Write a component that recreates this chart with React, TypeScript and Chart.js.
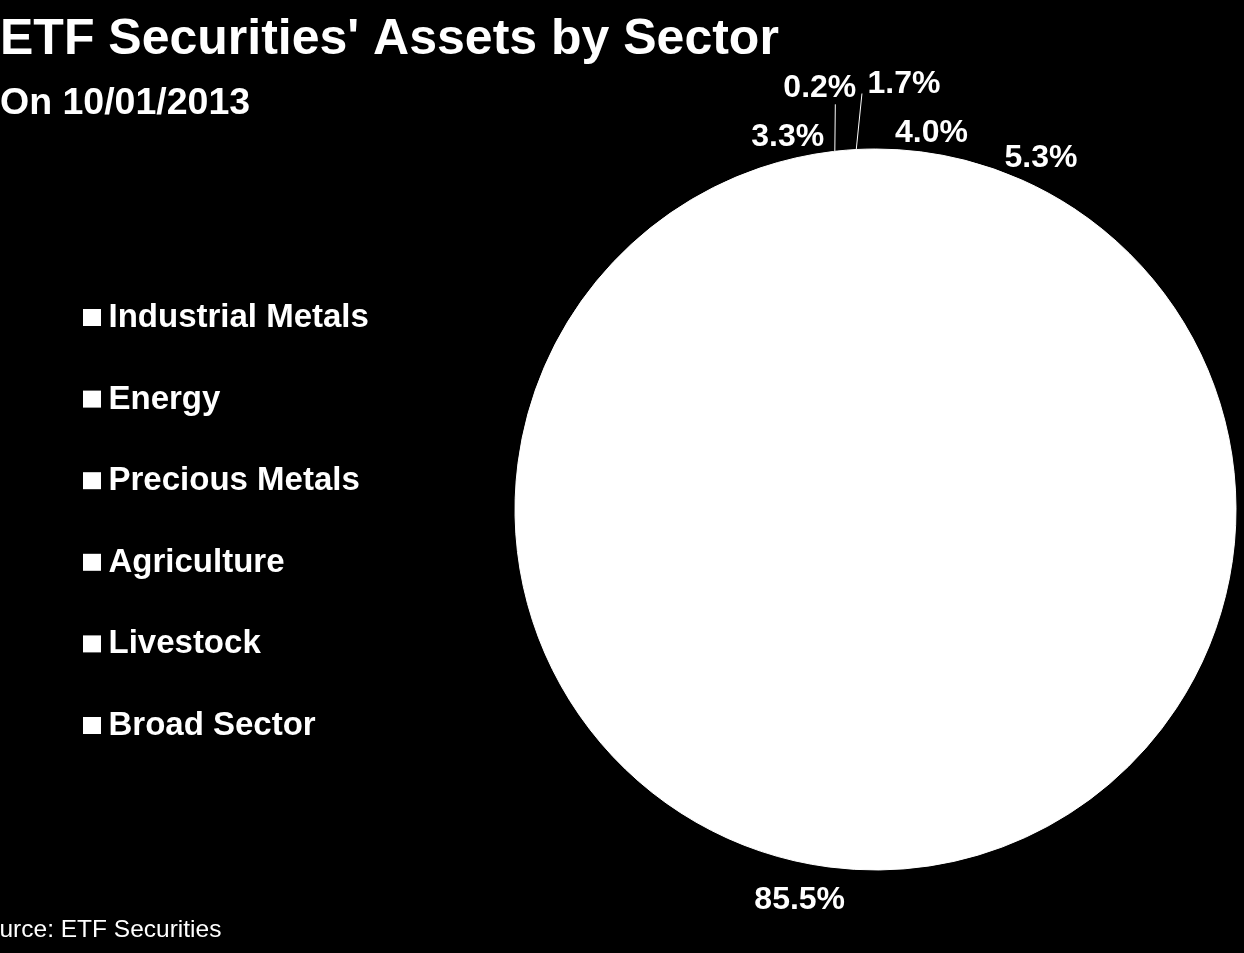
import React, { useEffect, useRef } from "react";
import { Chart, registerables } from "chart.js";

Chart.register(...registerables);

// ---- data ----
const TITLE = "ETF Securities' Assets by Sector";
const SUBTITLE = "On 10/01/2013";
const SOURCE = "Source: ETF Securities";
const sectors = [
  "Industrial Metals",
  "Energy",
  "Precious Metals",
  "Agriculture",
  "Livestock",
  "Broad Sector",
];
const shares = [4.0, 5.3, 85.5, 3.3, 0.2, 1.7];

// ---- style ----
const FONT = "'Liberation Sans', Arial, Helvetica, sans-serif";
const W = 1244;
const H = 953;
const LABEL_SIZE = 32;
// per-label fine nudges (style only)
const labelNudges: Array<[number, number]> = [
  [8, 1],
  [6.5, 3.7],
  [-26.5, 7],
  [-2.4, 1.3],
  [0, 0],
  [0, 0],
];
// leader-line labels for tiny slices: line end and label centre relative to the arc edge
const leaders: Array<null | { line: [number, number]; label: [number, number] }> = [
  null,
  null,
  null,
  null,
  { line: [0.5, -47], label: [-15, -66] },
  { line: [5.7, -56], label: [47.7, -68] },
];

const decorPlugin = {
  id: "decor",
  beforeDraw(chart: any) {
    const ctx = chart.ctx as CanvasRenderingContext2D;
    ctx.save();
    ctx.fillStyle = "#000";
    ctx.fillRect(0, 0, chart.width, chart.height);
    ctx.restore();
  },
  beforeDatasetsDraw(chart: any) {
    // white underlay from the pie's own geometry so that slice seams are invisible
    const meta = chart.getDatasetMeta(0);
    const arc = meta.data[0];
    if (!arc) return;
    const { x, y, outerRadius } = arc.getProps(["x", "y", "outerRadius"], true);
    const ctx = chart.ctx as CanvasRenderingContext2D;
    ctx.save();
    ctx.fillStyle = "#fff";
    ctx.beginPath();
    ctx.arc(x, y, outerRadius - 0.5, 0, Math.PI * 2);
    ctx.fill();
    ctx.restore();
  },
  afterDraw(chart: any) {
    const ctx = chart.ctx as CanvasRenderingContext2D;
    ctx.save();
    ctx.fillStyle = "#fff";
    ctx.textAlign = "left";
    ctx.textBaseline = "alphabetic";

    // title & subtitle
    ctx.font = `bold 50px ${FONT}`;
    ctx.fillText(TITLE, 0, 54);
    ctx.font = `bold 37.5px ${FONT}`;
    ctx.fillText(SUBTITLE, 0, 113.5);

    // source
    ctx.font = `24.5px ${FONT}`;
    ctx.fillText(SOURCE, -30.5, 937);

    // legend
    const labels: string[] = chart.data.labels;
    ctx.font = `bold 33px ${FONT}`;
    labels.forEach((lab, i) => {
      const base = 327 + i * 81.6;
      ctx.fillStyle = "#fff";
      ctx.fillRect(83, base - 18, 18, 17);
      ctx.fillText(lab, 108.5, base);
    });

    // data labels
    const meta = chart.getDatasetMeta(0);
    const values: number[] = chart.data.datasets[0].data;
    ctx.font = `bold ${LABEL_SIZE}px ${FONT}`;
    ctx.textAlign = "center";
    meta.data.forEach((arc: any, i: number) => {
      const { x, y, startAngle, endAngle, outerRadius } = arc.getProps(
        ["x", "y", "startAngle", "endAngle", "outerRadius"],
        true
      );
      const mid = (startAngle + endAngle) / 2;
      const dx = Math.cos(mid);
      const dy = Math.sin(mid);
      const text = values[i].toFixed(1) + "%";
      const w = ctx.measureText(text).width;
      const hw = w / 2;
      const hh = 11.5;
      let cx: number;
      let cy: number;
      const ld = leaders[i];
      if (ld) {
        const ex = x + dx * outerRadius;
        const ey = y + dy * outerRadius;
        ctx.strokeStyle = "#fff";
        ctx.lineWidth = 1;
        ctx.beginPath();
        ctx.moveTo(ex, ey);
        ctx.lineTo(ex + ld.line[0], ey + ld.line[1]);
        ctx.stroke();
        cx = ex + ld.label[0];
        cy = ey + ld.label[1];
      } else {
        const d = outerRadius + 6 + Math.abs(dx) * hw + Math.abs(dy) * hh;
        cx = x + dx * d + labelNudges[i][0];
        cy = y + dy * d + labelNudges[i][1];
      }
      ctx.fillStyle = "#fff";
      ctx.fillText(text, cx, cy + 0.358 * LABEL_SIZE);
    });
    ctx.restore();
  },
};

export default function App() {
  const ref = useRef<HTMLCanvasElement | null>(null);

  useEffect(() => {
    document.body.style.margin = "0";
    document.body.style.background = "#000";
    if (!ref.current) return;
    const chart = new Chart(ref.current, {
      type: "pie",
      data: {
        labels: sectors,
        datasets: [
          {
            data: shares,
            backgroundColor: "#ffffff",
            borderColor: "#ffffff",
            borderWidth: 1,
            hoverOffset: 0,
          },
        ],
      },
      options: {
        responsive: false,
        animation: false,
        events: [],
        layout: {
          padding: { left: 514.5, right: 7.5, top: 148.5, bottom: 82.5 },
        },
        plugins: {
          legend: { display: false },
          tooltip: { enabled: false },
          title: { display: false },
        },
      },
      plugins: [decorPlugin],
    });
    return () => chart.destroy();
  }, []);

  return (
    <div style={{ width: W, height: H, background: "#000", overflow: "hidden" }}>
      <canvas ref={ref} width={W} height={H} style={{ display: "block" }} />
    </div>
  );
}
